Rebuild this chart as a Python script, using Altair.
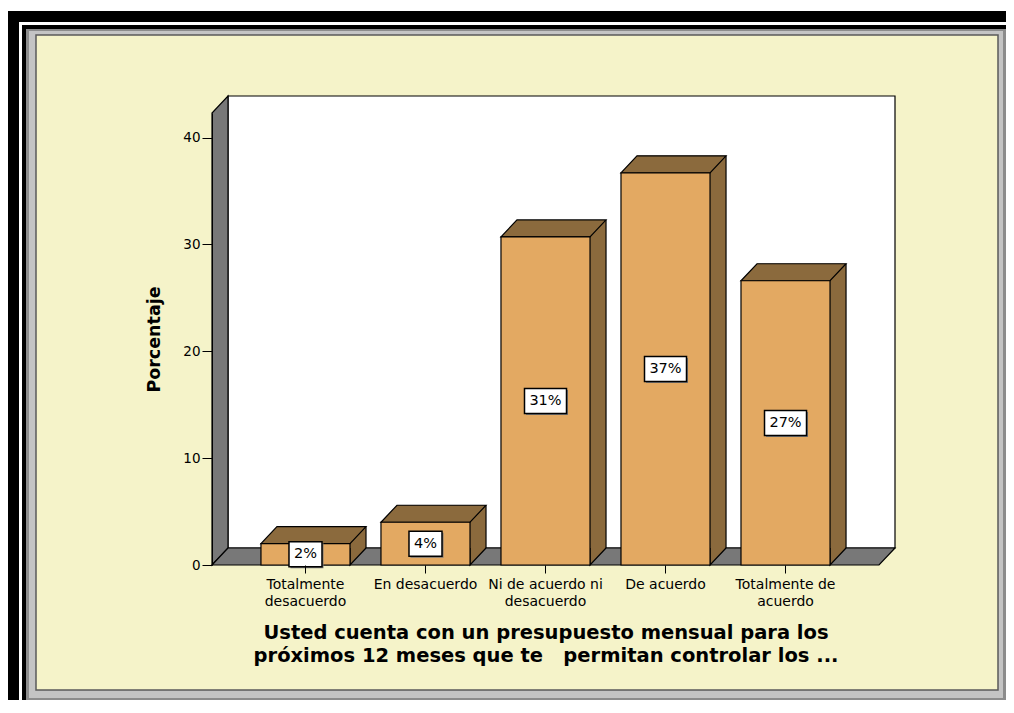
import altair as alt
import pandas as pd

# ---------------- data ----------------
CATEGORIES = [
    "Totalmente desacuerdo",
    "En desacuerdo",
    "Ni de acuerdo ni desacuerdo",
    "De acuerdo",
    "Totalmente de acuerdo",
]
LABEL_LINES = [
    ["Totalmente", "desacuerdo"],
    ["En desacuerdo"],
    ["Ni de acuerdo ni", "desacuerdo"],
    ["De acuerdo"],
    ["Totalmente de", "acuerdo"],
]
PERCENT = [2.0, 4.0, 30.7, 36.7, 26.6]
PERCENT_LABELS = ["2%", "4%", "31%", "37%", "27%"]
Y_TICKS = [0, 10, 20, 30, 40]
Y_TITLE = "Porcentaje"
X_TITLE = [
    "Usted cuenta con un presupuesto mensual para los",
    "próximos 12 meses que te \u00a0 permitan controlar los ...",
]

# ---------------- style ----------------
FONT = "DejaVu Sans"
FRONT = "#E3A962"
SIDE = "#8B6A3D"
WALL = "#787878"
CREAM = "#F5F3C9"
W, H = 667, 452          # front plane of the plot
DX, DY = 16, 17          # 3D depth offset
PAD_L, PAD_T = 204, 105
CANVAS_W, CANVAS_H = 998, 692
P_IN, P_OUT = 0.258, 0.408
STEP = W / (len(CATEGORIES) - P_IN + 2 * P_OUT)
HALF = STEP * (1 - P_IN) / 2
Y_MAX = 42.3

df = pd.DataFrame({"cat": CATEGORIES, "pct": PERCENT, "lbl": PERCENT_LABELS})
df["mid"] = df["pct"] / 2
df["zero"] = 0.0
df["box"] = ["s" if len(t) <= 2 else "l" for t in PERCENT_LABELS]

one = pd.DataFrame({"k": [0]})

label_expr = "".join(
    "datum.value === '" + c + "' ? [" + ", ".join("'" + s + "'" for s in lines) + "] : "
    for c, lines in zip(CATEGORIES, LABEL_LINES)
) + "datum.value"

xs = alt.Scale(domain=CATEGORIES, paddingInner=P_IN, paddingOuter=P_OUT)
ys = alt.Scale(domain=[0, Y_MAX], nice=False, zero=True)

xaxis = alt.Axis(
    title=X_TITLE, labelAngle=0, labelExpr=label_expr, domain=False,
    tickSize=8, tickColor="black", tickWidth=1, labelPadding=4,
    labelFont=FONT, labelFontSize=14, labelLineHeight=17, labelColor="black",
    labelOverlap=False, labelLimit=300,
    titleFont=FONT, titleFontSize=19.5, titleFontWeight="bold",
    titleLineHeight=23.5, titlePadding=15, titleColor="black", zindex=1,
)
yaxis = alt.Axis(
    values=Y_TICKS, title=Y_TITLE, grid=False, tickSize=10, tickColor="black",
    domainColor="black", labelFont=FONT, labelFontSize=13.5, labelColor="black",
    labelPadding=2, titleFont=FONT, titleFontSize=17.5, titleFontWeight="bold",
    titleColor="black", titlePadding=19, zindex=1,
)

X = alt.X("cat:N", scale=xs, sort=CATEGORIES, axis=xaxis)


def Y(field):
    return alt.Y(field + ":Q", scale=ys, axis=yaxis)


def frame_rect(x1, y1, x2, y2, fill, stroke="", sw=0):
    kw = dict(fill=fill, strokeWidth=sw)
    if stroke:
        kw["stroke"] = stroke
    return alt.Chart(one).mark_rect(**kw).encode(
        x=alt.value(x1 - PAD_L - 8), x2=alt.value(x2 - PAD_L - 8),
        y=alt.value(y1 - PAD_T - 8), y2=alt.value(y2 - PAD_T - 8),
    )


decor = [
    frame_rect(8, 8, 1006, 11, "white"),
    frame_rect(19, 22, 1006, 700, "white"),
    frame_rect(22, 25, 1006, 700, "black"),
    frame_rect(26, 29, 1006, 700, "#8c8c8c"),
    frame_rect(29, 31, 1003, 698, "#c4c4c4"),
    frame_rect(36, 35, 998, 690, CREAM, "#5a5a5a", 1.5),
]

back_wall = alt.Chart(one).mark_rect(fill="white", stroke="black", strokeWidth=1.2).encode(
    x=alt.value(DX), x2=alt.value(W + DX), y=alt.value(-DY), y2=alt.value(H - DY)
)
left_wall = alt.Chart(one).mark_point(
    shape=f"M0,{H} L0,0 L{DX},{-DY} L{DX},{H - DY} Z", size=4, filled=True,
    fill=WALL, stroke="black", strokeWidth=1.2, opacity=1,
).encode(x=alt.value(0), y=alt.value(0))
floor = alt.Chart(one).mark_point(
    shape=f"M0,{H} L{W},{H} L{W + DX},{H - DY} L{DX},{H - DY} Z", size=4, filled=True,
    fill=WALL, stroke="black", strokeWidth=1.2, opacity=1,
).encode(x=alt.value(0), y=alt.value(0))

base = alt.Chart(df)

side = base.mark_bar(
    fill=SIDE, strokeWidth=0, xOffset=DX, x2Offset=DX, yOffset=-DY, y2Offset=-DY
).encode(x=X, y=Y("pct"), y2=alt.Y2("zero"))

side_bottom = base.mark_point(
    shape=f"M{HALF + DX:.2f},{-DY} L{HALF:.2f},0 L{HALF:.2f},{-DY}", size=4, filled=True,
    fill=SIDE, stroke="black", strokeWidth=1.2, opacity=1,
).encode(x=X, y=Y("zero"))

side_edge = base.mark_rule(
    color="black", strokeWidth=1.2, xOffset=HALF + DX, yOffset=-DY, y2Offset=-DY
).encode(x=X, y=Y("pct"), y2=alt.Y2("zero"))

top = base.mark_point(
    shape=f"M{-HALF:.2f},0 L{HALF:.2f},0 L{HALF + DX:.2f},{-DY} L{-HALF + DX:.2f},{-DY} Z",
    size=4, filled=True, fill=SIDE, stroke="black", strokeWidth=1.2, opacity=1,
).encode(x=X, y=Y("pct"))

front = base.mark_bar(fill=FRONT, stroke="black", strokeWidth=1.2).encode(
    x=X, y=Y("pct"), y2=alt.Y2("zero")
)

BOX_S = "M-16.5,-12.5 L16.5,-12.5 L16.5,12.5 L-16.5,12.5 Z"
BOX_L = "M-21,-12.5 L21,-12.5 L21,12.5 L-21,12.5 Z"
box_shape = alt.Shape("box:N", scale=alt.Scale(domain=["s", "l"], range=[BOX_S, BOX_L]), legend=None)

shadow = base.mark_point(
    size=4, filled=True, fill="#777777", strokeWidth=0, opacity=1, xOffset=1.5, yOffset=1.5
).encode(x=X, y=Y("mid"), shape=box_shape)
box = base.mark_point(
    size=4, filled=True, fill="white", stroke="black", strokeWidth=1.5, opacity=1
).encode(x=X, y=Y("mid"), shape=box_shape)
text = base.mark_text(font=FONT, fontSize=14.5, color="black", baseline="middle", align="center").encode(
    x=X, y=Y("mid"), text="lbl:N"
)

chart = alt.layer(
    *decor, back_wall, left_wall, floor,
    side, side_bottom, side_edge, top, front, shadow, box, text,
).properties(
    width=W, height=H,
    padding={"left": PAD_L, "top": PAD_T, "right": CANVAS_W - PAD_L - W, "bottom": CANVAS_H - PAD_T - H},
    autosize=alt.AutoSizeParams(type="none"),
    background="black",
).configure_view(strokeWidth=0)

chart.save("out.html", embed_options={"renderer": "svg", "actions": False})
